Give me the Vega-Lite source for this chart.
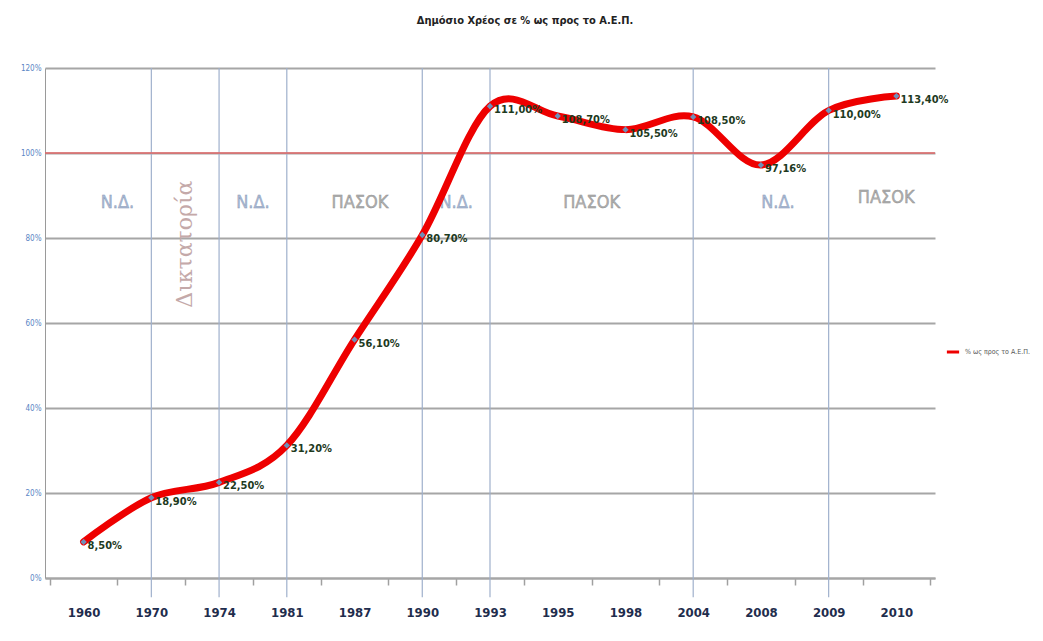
{
  "$schema": "https://vega.github.io/schema/vega-lite/v6.json",
  "autosize": "none",
  "width": 890,
  "height": 510,
  "padding": {"left": 45, "top": 68, "right": 108, "bottom": 63},
  "background": "white",
  "config": {
    "locale": {"number": {"decimal": ",", "thousands": ".", "grouping": [3], "currency": ["", " €"]}},
    "view": {"stroke": null},
    "font": "'DejaVu Sans Condensed', Roboto, sans-serif"
  },
  "title": {
    "text": "Δημόσιο Χρέος σε % ως προς το Α.Ε.Π.",
    "fontSize": 11,
    "fontWeight": "bold",
    "font": "'DejaVu Sans Condensed', Roboto, sans-serif",
    "color": "#222222",
    "anchor": "middle",
    "dx": 35,
    "offset": 38
  },
  "datasets": {
    "debt": [
      {"year": "1960", "value": 0.085},
      {"year": "1970", "value": 0.189},
      {"year": "1974", "value": 0.225},
      {"year": "1981", "value": 0.312},
      {"year": "1987", "value": 0.561},
      {"year": "1990", "value": 0.807},
      {"year": "1993", "value": 1.11},
      {"year": "1995", "value": 1.087},
      {"year": "1998", "value": 1.055},
      {"year": "2004", "value": 1.085},
      {"year": "2008", "value": 0.9716},
      {"year": "2009", "value": 1.10},
      {"year": "2010", "value": 1.134}
    ],
    "vlines": [
      {"year": "1970"}, {"year": "1974"}, {"year": "1981"}, {"year": "1990"},
      {"year": "1993"}, {"year": "2004"}, {"year": "2009"}
    ]
  },
  "layer": [
    {
      "data": {"name": "debt"},
      "mark": {"type": "point", "opacity": 0},
      "encoding": {
        "x": {
          "field": "year", "type": "nominal",
          "scale": {"type": "band", "paddingInner": 0, "paddingOuter": 0.07,
            "domain": ["1960","1970","1974","1981","1987","1990","1993","1995","1998","2004","2008","2009","2010"]},
          "axis": {
            "title": null, "labelAngle": 0, "labelFontSize": 13, "labelFontWeight": "bold",
            "labelFont": "'DejaVu Sans Condensed', Roboto, sans-serif", "labelColor": "#1f2d4d",
            "tickBand": "extent", "tickSize": 7, "tickColor": "#a0a0a0", "tickWidth": 1.5,
            "domainColor": "#a6a6a6", "domainWidth": 2, "labelPadding": 21, "grid": false
          }
        },
        "y": {
          "field": "value", "type": "quantitative",
          "scale": {"domain": [0, 1.2], "nice": false, "zero": true},
          "axis": {
            "title": null, "values": [0, 0.2, 0.4, 0.6, 0.8, 1.0, 1.2], "format": ".0%",
            "labelFontSize": 8, "labelColor": "#5b86c5", "labelPadding": 4,
            "labelFont": "'DejaVu Sans Condensed', Roboto, sans-serif",
            "grid": true, "gridColor": "#a6a6a6", "gridWidth": 2,
            "domainColor": "#9a9a9a", "domainWidth": 1, "ticks": false
          }
        }
      }
    },
    {
      "data": {"name": "vlines"},
      "mark": {"type": "rule", "color": "#9fb0cc", "strokeWidth": 1.2},
      "encoding": {
        "x": {"field": "year", "type": "nominal"},
        "y": {"datum": 1.2, "type": "quantitative"},
        "y2": {"datum": -0.045}
      }
    },
    {
      "data": {"values": [{}]},
      "mark": {"type": "rule", "color": "#e06666", "strokeWidth": 1.5},
      "encoding": {"y": {"datum": 1.0, "type": "quantitative"}}
    },
    {
      "data": {"values": [
        {"year": "1970", "party": "Ν.Δ."},
        {"year": "1981", "party": "Ν.Δ."},
        {"year": "1993", "party": "Ν.Δ."},
        {"year": "1998", "party": "ΠΑΣΟΚ"}
      ]},
      "mark": {"type": "text", "fontSize": 18, "baseline": "middle", "align": "center", "strokeWidth": 0.4},
      "encoding": {
        "x": {"field": "year", "type": "nominal", "bandPosition": 0},
        "y": {"datum": 0.882, "type": "quantitative"},
        "text": {"field": "party"},
        "color": {"condition": {"test": "datum.party === 'ΠΑΣΟΚ'", "value": "#b0b0b0"}, "value": "#aabbd6"},
        "stroke": {"condition": {"test": "datum.party === 'ΠΑΣΟΚ'", "value": "#8f8f8f"}, "value": "#8796b3"}
      }
    },
    {
      "data": {"values": [{"year": "1987", "party": "ΠΑΣΟΚ"}]},
      "mark": {"type": "text", "fontSize": 18, "baseline": "middle", "align": "center", "fill": "#b0b0b0", "stroke": "#8f8f8f", "strokeWidth": 0.4},
      "encoding": {
        "x": {"field": "year", "type": "nominal", "bandPosition": 0.58},
        "y": {"datum": 0.882, "type": "quantitative"},
        "text": {"field": "party"}
      }
    },
    {
      "data": {"values": [{"year": "2008", "party": "Ν.Δ."}]},
      "mark": {"type": "text", "fontSize": 18, "baseline": "middle", "align": "center", "fill": "#aabbd6", "stroke": "#8796b3", "strokeWidth": 0.4},
      "encoding": {
        "x": {"field": "year", "type": "nominal", "bandPosition": 0.75},
        "y": {"datum": 0.882, "type": "quantitative"},
        "text": {"field": "party"}
      }
    },
    {
      "data": {"values": [{"year": "2010", "party": "ΠΑΣΟΚ"}]},
      "mark": {"type": "text", "fontSize": 18, "baseline": "middle", "align": "center", "fill": "#b0b0b0", "stroke": "#8f8f8f", "strokeWidth": 0.4},
      "encoding": {
        "x": {"field": "year", "type": "nominal", "bandPosition": 0.35},
        "y": {"datum": 0.895, "type": "quantitative"},
        "text": {"field": "party"}
      }
    },
    {
      "data": {"values": [{"year": "1974", "party": "Δικτατορία"}]},
      "mark": {"type": "text", "fontSize": 22, "font": "DejaVu Serif", "baseline": "middle", "align": "center", "angle": 270, "fill": "#c4a9a9", "dx": 4},
      "encoding": {
        "x": {"field": "year", "type": "nominal", "bandPosition": 0},
        "y": {"datum": 0.776, "type": "quantitative"},
        "text": {"field": "party"}
      }
    },
    {
      "data": {"name": "debt"},
      "mark": {"type": "line", "interpolate": "cardinal", "strokeWidth": 7, "strokeCap": "round"},
      "encoding": {
        "x": {"field": "year", "type": "nominal"},
        "y": {"field": "value", "type": "quantitative"},
        "color": {
          "datum": "% ως προς το Α.Ε.Π.",
          "scale": {"range": ["#ee0000"]},
          "legend": {
            "title": null, "orient": "none", "legendX": 900, "legendY": 276,
            "labelFontSize": 7, "labelColor": "#555555", "symbolType": "stroke",
            "labelFont": "'DejaVu Sans Condensed', Roboto, sans-serif",
            "symbolStrokeWidth": 3, "symbolSize": 150
          }
        }
      }
    },
    {
      "data": {"name": "debt"},
      "mark": {"type": "point", "shape": "diamond", "filled": true, "size": 40, "color": "#6f8fb8", "opacity": 1},
      "encoding": {
        "x": {"field": "year", "type": "nominal"},
        "y": {"field": "value", "type": "quantitative"}
      }
    },
    {
      "data": {"name": "debt"},
      "mark": {"type": "text", "align": "left", "baseline": "middle", "dx": 4, "dy": 4, "fontSize": 11, "fontWeight": "bold", "color": "#1e3a1e"},
      "encoding": {
        "x": {"field": "year", "type": "nominal"},
        "y": {"field": "value", "type": "quantitative"},
        "text": {"field": "value", "format": ".2%"}
      }
    }
  ]
}
